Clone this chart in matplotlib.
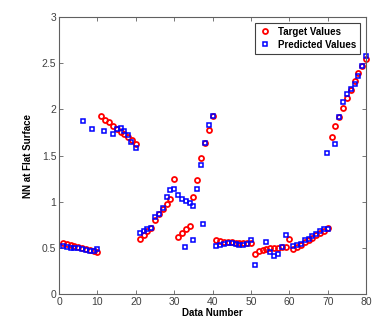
import numpy as np
import matplotlib
matplotlib.use('Agg')
import matplotlib.pyplot as plt

# Target values (x = data number)
x_target = list(range(1, 81))
y_target = [0.55, 0.54, 0.53, 0.52, 0.51, 0.50, 0.49, 0.48, 0.47, 0.45,
            1.93, 1.89, 1.86, 1.82, 1.79, 1.76, 1.73, 1.70, 1.67, 1.63,
            0.60, 0.64, 0.68, 0.72, 0.80, 0.87, 0.92, 0.975, 1.03, 1.25,
            0.62, 0.665, 0.70, 0.74, 1.05, 1.23, 1.47, 1.64, 1.78, 1.925,
            0.58, 0.57, 0.56, 0.56, 0.56, 0.55, 0.55, 0.55, 0.55, 0.55,
            0.43, 0.47, 0.48, 0.49, 0.495, 0.50, 0.50, 0.505, 0.51, 0.60,
            0.49, 0.51, 0.53, 0.56, 0.585, 0.61, 0.635, 0.66, 0.68, 0.71,
            1.70, 1.82, 1.915, 2.02, 2.12, 2.21, 2.31, 2.39, 2.47, 2.55]

# Predicted values (positions)
x_pred = [1, 2, 3, 4, 5, 6, 7, 8, 9, 10,
          6.1, 8.6, 11.8, 14.1, 15, 16, 17, 18, 18.8, 20,
          21, 22, 23, 24, 25, 26, 27, 28, 29, 30,
          31, 32, 32.8, 33, 34, 35, 35, 36, 37, 37.5, 38, 39, 40,
          41, 42, 43, 44, 45, 46, 47, 48, 49, 50,
          51, 54, 55, 56, 57, 58, 59,
          61, 62, 63, 64, 65, 66, 67, 68, 69, 70,
          69.8, 72, 73, 74, 75, 76, 77, 78, 79, 80]
y_pred = [0.52, 0.51, 0.50, 0.50, 0.495, 0.49, 0.48, 0.47, 0.47, 0.49,
          1.87, 1.79, 1.77, 1.73, 1.79, 1.80, 1.77, 1.72, 1.65, 1.58,
          0.66, 0.685, 0.70, 0.72, 0.83, 0.87, 0.93, 1.05, 1.13, 1.14,
          1.075, 1.03, 0.51, 1.01, 0.99, 0.95, 0.59, 1.14, 1.40, 0.755, 1.64, 1.83, 1.925,
          0.52, 0.53, 0.545, 0.55, 0.55, 0.54, 0.535, 0.535, 0.545, 0.585,
          0.31, 0.56, 0.45, 0.41, 0.43, 0.51, 0.635,
          0.52, 0.53, 0.545, 0.58, 0.595, 0.63, 0.655, 0.68, 0.70, 0.70,
          1.53, 1.63, 1.915, 2.08, 2.17, 2.22, 2.27, 2.36, 2.47, 2.58]

plt.rcParams['font.family'] = ['Liberation Sans', 'DejaVu Sans']

fig = plt.figure(figsize=(3.74, 3.32), dpi=100)
ax = fig.add_axes([0.158, 0.1145, 0.821, 0.834])

ax.plot(x_target, y_target, 'o', mfc='none', mec='red', ms=3.6, mew=1.3,
        label='Target Values', clip_on=False)
ax.plot(x_pred, y_pred, 's', mfc='none', mec='blue', ms=3.5, mew=1.1,
        label='Predicted Values', clip_on=False)

ax.set_xlim(0, 80)
ax.set_ylim(0, 3)
ax.set_xticks(np.arange(0, 81, 10))
ax.set_yticks(np.arange(0, 3.01, 0.5))
ax.set_yticklabels(['0', '0.5', '1', '1.5', '2', '2.5', '3'])
ax.tick_params(direction='in', top=True, right=True, length=3, width=0.6,
               labelsize=7.5, labelcolor='#404040', color='#606060', pad=2)
for s in ax.spines.values():
    s.set_color('#606060')
    s.set_linewidth(0.8)

ax.set_xlabel('Data Number', fontsize=7, fontweight='bold', labelpad=1)
ax.set_ylabel('NN at Flat Surface', fontsize=7, fontweight='bold', labelpad=6)

leg = ax.legend(loc='upper right', prop={'weight': 'bold', 'size': 7},
                fancybox=False, edgecolor='#404040', framealpha=1,
                handlelength=1.2, borderaxespad=0.6, labelspacing=0.3)
leg.get_frame().set_linewidth(0.8)

fig.savefig('out.png', dpi=100)
